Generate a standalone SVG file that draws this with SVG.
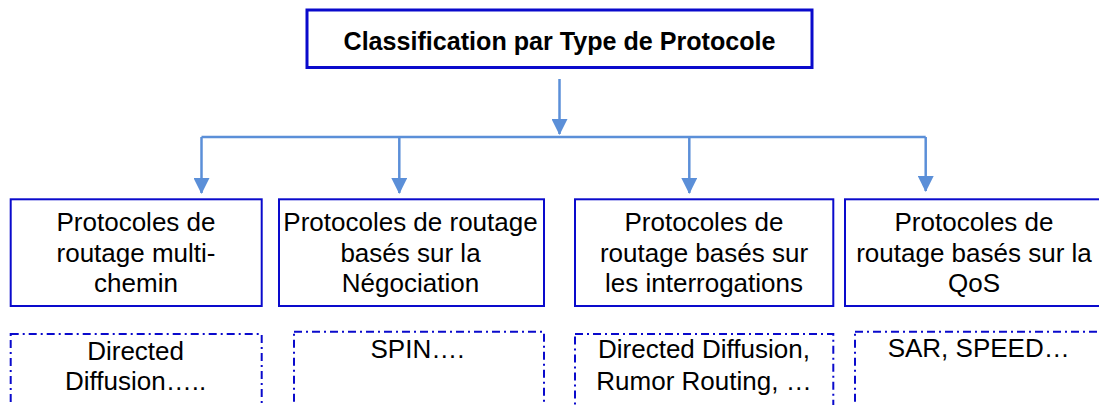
<svg xmlns="http://www.w3.org/2000/svg" width="1099" height="405" viewBox="0 0 1099 405">
  <style>
    .box { fill: #ffffff; stroke: #0a0acc; stroke-width: 2; }
    .root { fill: #ffffff; stroke: #0a0acc; stroke-width: 3; }
    .dash { fill: #ffffff; stroke: #0a0acc; stroke-width: 2; stroke-dasharray: 8 4 2 4; }
    .lbl { font-family: "Liberation Sans", Arial, sans-serif; font-size: 26px; fill: #000000; text-anchor: middle; }
    .ttl { font-family: "Liberation Sans", Arial, sans-serif; font-size: 25px; font-weight: bold; fill: #000000; text-anchor: middle; }
    .conn { fill: none; stroke: #5b8fd8; stroke-width: 2.5; }
  </style>
  <defs>
    <marker id="arr" markerUnits="userSpaceOnUse" markerWidth="16" markerHeight="16" viewBox="0 0 16 16" refX="15" refY="8" orient="auto">
      <path d="M0,0 L16,8 L0,16 Z" fill="#5b8fd8"/>
    </marker>
  </defs>
  <rect width="1099" height="405" fill="#ffffff"/>

  <g id="connectors">
    <line class="conn" x1="559.5" y1="79" x2="559.5" y2="134" marker-end="url(#arr)"/>
    <polyline class="conn" points="201.5,137 925.7,137"/>
    <line class="conn" x1="201.5" y1="137" x2="201.5" y2="193" marker-end="url(#arr)"/>
    <line class="conn" x1="399.3" y1="137" x2="399.3" y2="193" marker-end="url(#arr)"/>
    <line class="conn" x1="689.3" y1="137" x2="689.3" y2="193" marker-end="url(#arr)"/>
    <line class="conn" x1="925.7" y1="137" x2="925.7" y2="191" marker-end="url(#arr)"/>
  </g>

  <g id="root">
    <rect class="root" x="307" y="10" width="505" height="57.5"/>
    <text class="ttl" x="559.5" y="50" textLength="432" lengthAdjust="spacingAndGlyphs">Classification par Type de Protocole</text>
  </g>

  <g id="node-multichemin">
    <rect class="box" x="10.7" y="199.3" width="251" height="106.7"/>
    <text class="lbl" x="136" y="230.7">Protocoles de</text>
    <text class="lbl" x="136" y="261.5">routage multi-</text>
    <text class="lbl" x="136" y="292">chemin</text>
  </g>
  <g id="node-negociation">
    <rect class="box" x="279" y="199.3" width="265" height="106.7"/>
    <text class="lbl" x="410.5" y="230.7">Protocoles de routage</text>
    <text class="lbl" x="410.5" y="261.5">basés sur la</text>
    <text class="lbl" x="410.5" y="292">Négociation</text>
  </g>
  <g id="node-interrogations">
    <rect class="box" x="575" y="199.3" width="258.3" height="106.7"/>
    <text class="lbl" x="704" y="230.7">Protocoles de</text>
    <text class="lbl" x="704" y="261.5">routage basés sur</text>
    <text class="lbl" x="704" y="292">les interrogations</text>
  </g>
  <g id="node-qos">
    <rect class="box" x="845" y="199.3" width="258" height="106.7"/>
    <text class="lbl" x="974" y="230.7">Protocoles de</text>
    <text class="lbl" x="974" y="261.5">routage basés sur la</text>
    <text class="lbl" x="974" y="292">QoS</text>
  </g>

  <g id="ex-multichemin">
    <rect class="dash" x="10.7" y="334" width="251" height="80"/>
    <text class="lbl" x="135.6" y="360">Directed</text>
    <text class="lbl" x="135.6" y="390">Diffusion…..</text>
  </g>
  <g id="ex-negociation">
    <rect class="dash" x="294" y="331.7" width="250" height="82"/>
    <text class="lbl" x="417.5" y="358.3">SPIN….</text>
  </g>
  <g id="ex-interrogations">
    <rect class="dash" x="575" y="334" width="258.3" height="80"/>
    <text class="lbl" x="704" y="358.3">Directed Diffusion,</text>
    <text class="lbl" x="704" y="390">Rumor Routing, …</text>
  </g>
  <g id="ex-qos">
    <rect class="dash" x="855" y="331.7" width="250" height="82"/>
    <text class="lbl" x="978.7" y="356.7">SAR, SPEED…</text>
  </g>
</svg>
